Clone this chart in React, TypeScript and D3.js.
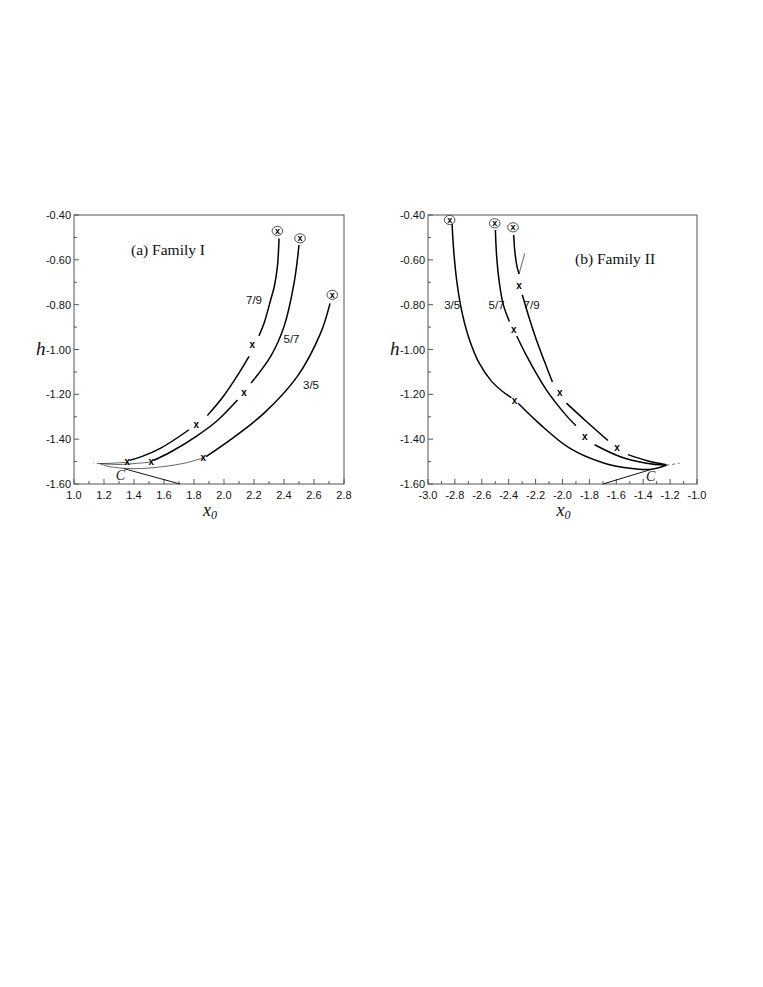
import React from "react";
import * as d3 from "d3";

type P = [number, number];

// ---------- Panel (a) Family I ----------
const famI_xTicks = [1.0, 1.2, 1.4, 1.6, 1.8, 2.0, 2.2, 2.4, 2.6, 2.8];
const famI_xMinor = [1.1, 1.3, 1.5, 1.7, 1.9, 2.1, 2.3, 2.5, 2.7];
const famI_xLabels = ["1.0", "1.2", "1.4", "1.6", "1.8", "2.0", "2.2", "2.4", "2.6", "2.8"];

const famI_79_solid: P[][] = [
  [[2.367, -0.505], [2.356, -0.63], [2.335, -0.72], [2.311, -0.779], [2.267, -0.883], [2.233, -0.939]],
  [[2.167, -1.031], [2.1, -1.105], [2.0, -1.205], [1.889, -1.295]],
  [[1.767, -1.358], [1.578, -1.44], [1.45, -1.478], [1.372, -1.494]],
];
const famI_79_thin: P[][] = [[[1.355, -1.503], [1.26, -1.507], [1.173, -1.509]]];
const famI_79_x: P[] = [[2.189, -0.982], [1.816, -1.336], [1.355, -1.503]];
const famI_79_circle: P = [2.356, -0.471];

const famI_57_solid: P[][] = [
  [[2.5, -0.534], [2.467, -0.704], [2.4, -0.898], [2.311, -1.031], [2.18, -1.15]],
  [[2.09, -1.225], [1.95, -1.32], [1.82, -1.385], [1.65, -1.455], [1.53, -1.495]],
];
const famI_57_thin: P[][] = [[[1.516, -1.502], [1.4, -1.509], [1.3, -1.513], [1.173, -1.509]]];
const famI_57_x: P[] = [[2.133, -1.192], [1.516, -1.502]];
const famI_57_circle: P = [2.507, -0.504];

const famI_35_solid: P[][] = [
  [[2.707, -0.794], [2.644, -0.927], [2.489, -1.12], [2.267, -1.284], [2.044, -1.402], [1.88, -1.478]],
];
const famI_35_thin: P[][] = [
  [[1.862, -1.484], [1.75, -1.505], [1.6, -1.522], [1.45, -1.531], [1.33, -1.53], [1.22, -1.52], [1.173, -1.509]],
];
const famI_35_x: P[] = [[1.862, -1.484]];
const famI_35_circle: P = [2.722, -0.756];

const famI_C_line: P[] = [[1.33, -1.531], [1.707, -1.6]];
const famI_C_label: P = [1.31, -1.562];
const famI_dash: P[] = [[1.173, -1.509], [1.13, -1.509]];

const famI_curveLabels = ["7/9", "5/7", "3/5"];
const famI_curveLabelPos: P[] = [[2.2, -0.78], [2.45, -0.955], [2.58, -1.16]];

// ---------- Panel (b) Family II ----------
const famII_xTicks = [-3.0, -2.8, -2.6, -2.4, -2.2, -2.0, -1.8, -1.6, -1.4, -1.2, -1.0];
const famII_xMinor = [-2.9, -2.7, -2.5, -2.3, -2.1, -1.9, -1.7, -1.5, -1.3, -1.1];
const famII_xLabels = ["-3.0", "-2.8", "-2.6", "-2.4", "-2.2", "-2.0", "-1.8", "-1.6", "-1.4", "-1.2", "-1.0"];

const famII_35_solid: P[][] = [
  [[-2.822, -0.425], [-2.81, -0.55], [-2.785, -0.7], [-2.745, -0.84], [-2.69, -0.96], [-2.62, -1.06], [-2.53, -1.14], [-2.45, -1.185], [-2.38, -1.215]],
  [[-2.33, -1.24], [-2.17, -1.332], [-1.947, -1.44], [-1.7, -1.505], [-1.5, -1.53], [-1.352, -1.535], [-1.228, -1.516]],
];
const famII_35_x: P[] = [[-2.356, -1.228]];
const famII_35_circle: P = [-2.839, -0.422];

const famII_57_solid: P[][] = [
  [[-2.499, -0.467], [-2.49, -0.58], [-2.47, -0.7], [-2.44, -0.8], [-2.395, -0.875]],
  [[-2.34, -0.94], [-2.27, -1.025], [-2.12, -1.18], [-1.971, -1.295], [-1.9, -1.34]],
  [[-1.761, -1.425], [-1.575, -1.477], [-1.377, -1.507], [-1.228, -1.516]],
];
const famII_57_x: P[] = [[-2.363, -0.912], [-1.835, -1.392]];
const famII_57_circle: P = [-2.504, -0.437];

const famII_79_solid: P[][] = [
  [[-2.363, -0.489], [-2.353, -0.571], [-2.338, -0.63], [-2.323, -0.663]],
  [[-2.299, -0.756], [-2.25, -0.855], [-2.195, -0.955], [-2.133, -1.055], [-2.075, -1.145]],
  [[-1.971, -1.239], [-1.822, -1.321], [-1.662, -1.406]],
  [[-1.513, -1.469], [-1.377, -1.495], [-1.228, -1.514]],
];
const famII_79_thin: P[][] = [[[-2.323, -0.663], [-2.281, -0.571]]];
const famII_79_x: P[] = [[-2.323, -0.715], [-2.021, -1.195], [-1.595, -1.44]];
const famII_79_circle: P = [-2.368, -0.455];

const famII_C_line: P[] = [[-1.699, -1.6], [-1.352, -1.537]];
const famII_C_label: P = [-1.345, -1.563];
const famII_dash: P[] = [[-1.228, -1.516], [-1.13, -1.508]];

const famII_curveLabels = ["3/5", "5/7", "7/9"];
const famII_curveLabelPos: P[] = [[-2.82, -0.80], [-2.49, -0.80], [-2.23, -0.80]];

// shared y axis
const yTicks = [-1.6, -1.4, -1.2, -1.0, -0.8, -0.6, -0.4];
const yMinor = [-1.5, -1.3, -1.1, -0.9, -0.7, -0.5];
const yLabels = ["-1.60", "-1.40", "-1.20", "-1.00", "-0.80", "-0.60", "-0.40"];

interface PanelProps {
  left: number;
  right: number;
  xDomain: [number, number];
  xTicks: number[];
  xMinor: number[];
  xLabels: string[];
  solids: P[][];
  thins: P[][];
  xMarks: P[];
  circles: P[];
  cLine: P[];
  cLabel: P;
  dash: P[];
  curveLabels: string[];
  curveLabelPos: P[];
  title: string;
  titlePos: [number, number];
}

const TOP = 215;
const BOTTOM = 484;

function Panel(p: PanelProps) {
  const x = d3.scaleLinear().domain(p.xDomain).range([p.left, p.right]);
  const y = d3.scaleLinear().domain([-1.6, -0.4]).range([BOTTOM, TOP]);
  const line = d3
    .line<P>()
    .x((d) => x(d[0]))
    .y((d) => y(d[1]))
    .curve(d3.curveCatmullRom.alpha(0.5));
  const straight = d3
    .line<P>()
    .x((d) => x(d[0]))
    .y((d) => y(d[1]));
  const axisColor = "#555";
  const tickFont = "Arial, 'Liberation Sans', sans-serif";
  const serif = "'Times New Roman', 'Liberation Serif', serif";
  const xMid = (p.left + p.right) / 2;
  return (
    <g>
      <rect x={p.left} y={TOP} width={p.right - p.left} height={BOTTOM - TOP} fill="none" stroke={axisColor} strokeWidth={1} />
      {p.xTicks.map((t, i) => (
        <g key={"xt" + i}>
          <line x1={x(t)} x2={x(t)} y1={BOTTOM} y2={BOTTOM - 5} stroke={axisColor} />
          <text x={x(t)} y={BOTTOM + 15} fontSize={11} fontFamily={tickFont} textAnchor="middle" fill="#111">
            {p.xLabels[i]}
          </text>
        </g>
      ))}
      {p.xMinor.map((t, i) => (
        <line key={"xm" + i} x1={x(t)} x2={x(t)} y1={BOTTOM} y2={BOTTOM - 3} stroke={axisColor} />
      ))}
      {yTicks.map((t, i) => (
        <g key={"yt" + i}>
          <line x1={p.left} x2={p.left + 5} y1={y(t)} y2={y(t)} stroke={axisColor} />
          <text x={p.left - 3} y={y(t) + 4} fontSize={11} fontFamily={tickFont} textAnchor="end" fill="#111">
            {yLabels[i]}
          </text>
        </g>
      ))}
      {yMinor.map((t, i) => (
        <line key={"ym" + i} x1={p.left} x2={p.left + 3} y1={y(t)} y2={y(t)} stroke={axisColor} />
      ))}
      <text x={p.left - 38} y={y(-1.0) + 5} fontSize={19} fontStyle="italic" fontFamily={serif} fill="#111">
        h
      </text>
      <text x={xMid - 6} y={BOTTOM + 32} fontSize={18} fontStyle="italic" fontFamily={serif} fill="#111">
        x
        <tspan fontSize={12} dy={3}>0</tspan>
      </text>
      <text x={p.titlePos[0]} y={p.titlePos[1]} fontSize={15.5} fontFamily={serif} fill="#111">
        {p.title}
      </text>
      {p.solids.map((s, i) => (
        <path key={"s" + i} d={line(s) || ""} fill="none" stroke="#000" strokeWidth={1.5} />
      ))}
      {p.thins.map((s, i) => (
        <path key={"t" + i} d={line(s) || ""} fill="none" stroke="#222" strokeWidth={0.7} />
      ))}
      <path d={straight(p.cLine) || ""} fill="none" stroke="#111" strokeWidth={1} />
      <path d={straight(p.dash) || ""} fill="none" stroke="#333" strokeWidth={0.8} strokeDasharray="3,3" />
      <text x={x(p.cLabel[0])} y={y(p.cLabel[1]) + 5} fontSize={14} fontStyle="italic" fontFamily={serif} textAnchor="middle" fill="#111">
        C
      </text>
      {p.xMarks.map((m, i) => (
        <text key={"x" + i} x={x(m[0])} y={y(m[1]) + 3} fontSize={10} fontWeight="bold" fontFamily={tickFont} textAnchor="middle" fill="#000">
          x
        </text>
      ))}
      {p.circles.map((m, i) => (
        <g key={"c" + i}>
          <ellipse cx={x(m[0])} cy={y(m[1])} rx={5.3} ry={4.6} fill="#fff" stroke="#222" strokeWidth={0.8} />
          <text x={x(m[0])} y={y(m[1]) + 3} fontSize={9} fontWeight="bold" fontFamily={tickFont} textAnchor="middle" fill="#000">
            x
          </text>
        </g>
      ))}
      {p.curveLabels.map((l, i) => (
        <text
          key={"l" + i}
          x={x(p.curveLabelPos[i][0])}
          y={y(p.curveLabelPos[i][1]) + 4}
          fontSize={11.5}
          fontFamily={tickFont}
          textAnchor="middle"
          fill="#111"
        >
          {l}
        </text>
      ))}
    </g>
  );
}

export default function App() {
  return (
    <svg width={763} height={987} style={{ position: "absolute", left: 0, top: 0, background: "#fff" }}>
      <rect x={0} y={0} width={763} height={987} fill="#fff" />
      <Panel
        left={74}
        right={344}
        xDomain={[1.0, 2.8]}
        xTicks={famI_xTicks}
        xMinor={famI_xMinor}
        xLabels={famI_xLabels}
        solids={[...famI_79_solid, ...famI_57_solid, ...famI_35_solid]}
        thins={[...famI_79_thin, ...famI_57_thin, ...famI_35_thin]}
        xMarks={[...famI_79_x, ...famI_57_x, ...famI_35_x]}
        circles={[famI_79_circle, famI_57_circle, famI_35_circle]}
        cLine={famI_C_line}
        cLabel={famI_C_label}
        dash={famI_dash}
        curveLabels={famI_curveLabels}
        curveLabelPos={famI_curveLabelPos}
        title="(a) Family I"
        titlePos={[131, 255]}
      />
      <Panel
        left={428}
        right={697}
        xDomain={[-3.0, -1.0]}
        xTicks={famII_xTicks}
        xMinor={famII_xMinor}
        xLabels={famII_xLabels}
        solids={[...famII_35_solid, ...famII_57_solid, ...famII_79_solid]}
        thins={famII_79_thin}
        xMarks={[...famII_35_x, ...famII_57_x, ...famII_79_x]}
        circles={[famII_35_circle, famII_57_circle, famII_79_circle]}
        cLine={famII_C_line}
        cLabel={famII_C_label}
        dash={famII_dash}
        curveLabels={famII_curveLabels}
        curveLabelPos={famII_curveLabelPos}
        title="(b) Family II"
        titlePos={[575, 264]}
      />
    </svg>
  );
}
